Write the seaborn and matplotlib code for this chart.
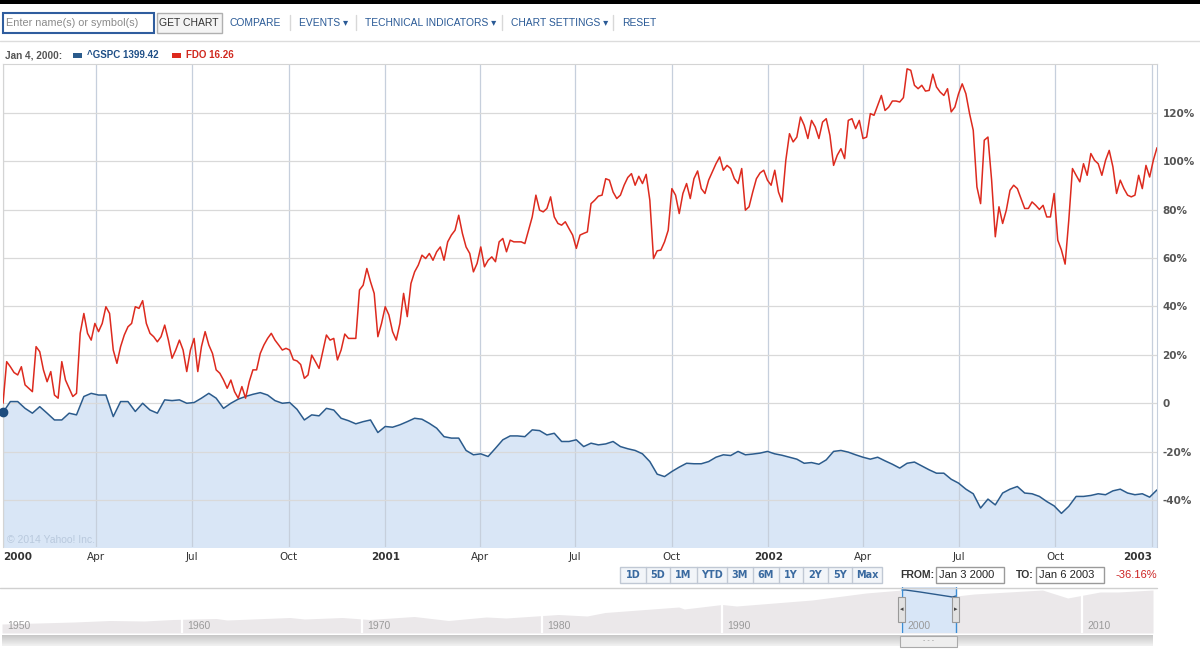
# Captura de Yahoo! Finance: ^GSPC frente a FDO (ene 2000 - ene 2003), en % desde el inicio
import numpy as np
import pandas as pd
import seaborn as sns
import matplotlib.pyplot as plt
from matplotlib.patches import Rectangle

# 1. Datos
# ^GSPC: un valor por semana (lunes) desde el 3 ene 2000
gspc_pct = [
    -3.8, 0.7, 0.7, -2.1, -4.1, -1.4, -4.1, -6.9, -6.9, -4.1,
    -4.8, 2.8, 4.1, 3.4, 3.4, -5.5, 0.7, 0.7, -3.4, 0.0,
    -2.8, -4.1, 1.4, 1.1, 1.4, 0.0, 0.3, 2.1, 4.1, 2.1,
    -2.1, 0.0, 1.7, 2.8, 3.7, 4.4, 3.4, 1.1, 0.0, 0.3,
    -2.5, -6.9, -4.8, -5.2, -2.1, -2.8, -6.2, -7.2, -8.5, -7.6,
    -6.9, -12.1, -9.6, -9.9, -8.9, -7.6, -6.2, -6.6, -8.3, -10.3,
    -13.8, -14.4, -14.4, -19.5, -21.3, -20.9, -22.0, -18.6, -15.1, -13.5,
    -13.5, -13.8, -11.0, -11.3, -13.1, -12.4, -15.8, -15.8, -15.1, -17.9,
    -16.5, -17.2, -16.8, -15.8, -17.9, -18.8, -19.5, -20.9, -24.1, -29.3,
    -30.3, -28.2, -26.4, -24.8, -25.0, -25.0, -24.1, -22.3, -21.3, -21.6,
    -19.9, -21.3, -21.0, -20.6, -19.9, -20.9, -21.5, -22.3, -23.1, -24.8,
    -24.5, -25.2, -23.4, -19.9, -19.5, -20.2, -21.3, -22.3, -23.1, -22.3,
    -23.8, -25.2, -26.8, -24.8, -24.3, -25.9, -27.5, -28.9, -28.9, -31.4,
    -33.0, -35.5, -37.4, -43.3, -39.6, -42.0, -37.1, -35.5, -34.4, -37.1,
    -37.4, -38.5, -40.6, -42.4, -45.5, -42.6, -38.5, -38.5, -38.1, -37.4,
    -37.8, -36.2, -35.5, -37.1, -37.8, -37.4, -38.8, -35.8,
]

# FDO: dos valores por semana (cada 3,5 dias) desde el 3 ene 2000
fdo_pct = [
    0.0, 17.2, 15.1, 12.7, 11.7, 15.1, 7.6, 6.2, 4.8, 23.4,
    21.3, 13.8, 8.9, 13.1, 3.4, 2.1, 17.2, 9.6, 6.2, 2.8,
    4.1, 28.9, 37.1, 28.9, 26.1, 33.0, 29.6, 33.0, 39.9, 37.1,
    22.0, 16.5, 23.4, 28.2, 31.6, 33.0, 39.9, 39.2, 42.4, 33.0,
    28.9, 27.5, 25.4, 27.5, 32.3, 26.1, 18.6, 22.0, 26.1, 22.0,
    13.1, 22.0, 26.8, 13.1, 23.4, 29.6, 24.1, 20.6, 13.8, 12.4,
    9.6, 6.2, 9.6, 4.8, 2.1, 6.9, 2.1, 8.9, 13.8, 13.8,
    20.6, 24.1, 26.8, 28.9, 26.1, 24.1, 22.0, 22.7, 22.0, 18.0,
    17.5, 16.0, 10.3, 11.7, 19.9, 17.2, 14.4, 21.3, 28.2, 26.1,
    26.8, 17.9, 22.0, 28.6, 26.8, 26.8, 26.8, 46.8, 48.8, 55.7,
    50.2, 45.4, 27.5, 33.0, 39.9, 36.5, 29.6, 26.1, 33.0, 45.4,
    35.8, 49.5, 54.3, 57.1, 61.2, 59.8, 61.9, 59.1, 62.6, 64.6,
    59.1, 66.7, 69.5, 71.5, 77.7, 70.2, 64.6, 61.9, 54.3, 57.8,
    64.6, 56.4, 59.1, 60.5, 58.5, 66.7, 68.1, 62.6, 67.4, 66.7,
    66.7, 66.7, 66.0, 71.5, 77.0, 86.0, 79.8, 79.1, 80.5, 85.3,
    77.0, 74.3, 73.6, 75.0, 72.2, 69.5, 64.0, 69.5, 70.2, 70.8,
    82.5, 83.9, 85.6, 86.0, 92.8, 92.2, 87.3, 84.6, 86.0, 90.1,
    93.3, 94.9, 90.1, 93.8, 90.8, 94.6, 83.9, 59.8, 63.0, 63.3,
    66.7, 71.5, 88.7, 86.0, 78.4, 86.7, 90.8, 84.6, 92.8, 96.0,
    88.7, 86.7, 92.2, 95.6, 99.0, 101.8, 96.3, 98.3, 97.0, 92.8,
    90.8, 97.0, 79.8, 81.2, 87.3, 92.8, 95.2, 96.3, 92.2, 90.1,
    96.3, 87.3, 83.2, 100.4, 111.4, 108.0, 110.0, 118.3, 114.9, 109.4,
    116.9, 114.2, 109.4, 116.2, 117.6, 110.7, 98.3, 102.5, 105.2, 101.1,
    116.9, 117.6, 113.5, 116.9, 109.4, 110.0, 119.7, 119.0, 123.1, 127.2,
    121.0, 122.4, 124.9, 124.9, 124.5, 126.3, 138.2, 137.6, 131.4, 130.0,
    131.4, 129.0, 129.3, 136.0, 130.7, 128.6, 127.2, 130.0, 120.4, 122.4,
    127.9, 132.0, 127.9, 119.7, 112.8, 89.4, 82.5, 108.7, 110.0, 92.2,
    68.8, 81.2, 74.3, 79.8, 88.0, 90.1, 88.7, 84.6, 80.5, 80.5,
    83.2, 81.8, 80.1, 81.8, 77.0, 77.0, 86.7, 67.4, 63.3, 57.5,
    75.7, 97.0, 94.2, 91.5, 99.0, 94.2, 103.2, 100.4, 99.0, 94.2,
    100.4, 104.5, 97.7, 86.7, 92.2, 88.7, 86.0, 85.3, 86.0, 94.2,
    88.7, 98.3, 93.5, 100.4, 105.6,
]

tick_dates = ['2000-01-03', '2000-04-01', '2000-07-01', '2000-10-01',
              '2001-01-01', '2001-04-01', '2001-07-01', '2001-10-01',
              '2002-01-01', '2002-04-01', '2002-07-01', '2002-10-01', '2003-01-01']
tick_labels = ['2000', 'Apr', 'Jul', 'Oct', '2001', 'Apr', 'Jul', 'Oct',
               '2002', 'Apr', 'Jul', 'Oct', '2003']
y_ticks = [-40, -20, 0, 20, 40, 60, 80, 100, 120]
y_tick_labels = ['-40%', '-20%', '0', '20%', '40%', '60%', '80%', '100%', '120%']

# Navegador inferior (historia larga, altura relativa)
nav_years = [1950.0, 1952, 1954, 1956, 1957.9, 1959.5, 1961.9, 1962.5, 1966, 1966.8,
             1968.9, 1970.4, 1972.9, 1974.8, 1976.9, 1978, 1980.9, 1982.5, 1983.5, 1987.6,
             1987.9, 1990, 1990.8, 1995, 1998, 2000.0, 2000.2, 2001, 2002.8, 2003.0,
             2004, 2007.8, 2009.2, 2011, 2012, 2013.94]
nav_level = [9, 10, 11, 12.5, 12, 13.5, 14.5, 13, 15.5, 14,
             15.5, 13.5, 16.5, 12.5, 16, 15, 18.5, 17, 20.5, 26,
             24, 28.5, 27, 33, 40, 43, 43, 41, 36, 37,
             39, 43, 35, 41, 41, 43]
nav_decades = [1950, 1960, 1970, 1980, 1990, 2000, 2010]
sel_from, sel_to = 2000.0, 2003.0

menu_items = ['COMPARE', 'EVENTS \u25be', 'TECHNICAL INDICATORS \u25be', 'CHART SETTINGS \u25be', 'RESET']
menu_x = [230, 299, 365, 511, 622]
range_buttons = ['1D', '5D', '1M', 'YTD', '3M', '6M', '1Y', '2Y', '5Y', 'Max']
range_edges = [620, 646, 670, 697, 727, 753, 779, 803, 828, 852, 882]

gspc = pd.DataFrame({'date': pd.date_range('2000-01-03', periods=len(gspc_pct), freq='7D'),
                     'pct': gspc_pct})
fdo = pd.DataFrame({'date': pd.date_range('2000-01-03', periods=len(fdo_pct), freq='84h'),
                    'pct': fdo_pct})

# 2. Estilo
sns.set_style('white')
plt.rcParams['font.family'] = ['Liberation Sans', 'DejaVu Sans']

W, H = 1200, 652
blue_line = '#2b5b8c'
red_line = '#dd2a1e'
fig = plt.figure(figsize=(W / 100, H / 100), dpi=100)

# 3. Grafico principal
ax = fig.add_axes([3 / W, 1 - 547 / H, 1154 / W, 483 / H])
ax.fill_between(gspc['date'], gspc['pct'], -60, color='#d9e6f6', lw=0, zorder=0)
sns.lineplot(data=gspc, x='date', y='pct', ax=ax, color=blue_line, lw=1.1, zorder=3)
sns.lineplot(data=fdo, x='date', y='pct', ax=ax, color=red_line, lw=1.1, zorder=3)
ax.plot(gspc['date'].iloc[0], gspc['pct'].iloc[0], 'o', ms=6, color='#1d4c7e',
        clip_on=False, zorder=5)

ax.set_xlim(gspc['date'].iloc[0], gspc['date'].iloc[-1])
ax.set_ylim(-59.4, 140.2)
ax.set_xlabel('')
ax.set_ylabel('')
ax.set_axisbelow(True)
ax.xaxis.grid(True, color='#c6cfdc', lw=0.9)
ax.yaxis.grid(True, color='#d9d9d9', lw=0.9)
for s in ['top', 'left']:
    ax.spines[s].set_color('#d4d4d4')
ax.spines['right'].set_color('#c6cfdc')
ax.spines['bottom'].set_visible(False)

ax.set_xticks(pd.to_datetime(tick_dates))
ax.set_xticklabels(tick_labels)
ax.tick_params(axis='x', length=0, pad=3.5, labelsize=7.5, colors='#333333')
for lbl in ax.get_xticklabels():
    lbl.set_family('DejaVu Sans')
    if lbl.get_text().isdigit():
        lbl.set_fontweight('bold')
ax.get_xticklabels()[0].set_ha('left')
ax.get_xticklabels()[-1].set_ha('right')

ax.yaxis.tick_right()
ax.set_yticks(y_ticks)
ax.set_yticklabels(y_tick_labels)
ax.tick_params(axis='y', length=0, pad=4, labelsize=7.5, colors='#555555')
for lbl in ax.get_yticklabels():
    lbl.set_family('DejaVu Sans')
    lbl.set_fontweight('bold')

ax.text(0.0035, 0.015, '\u00a9 2014 Yahoo! Inc.', transform=ax.transAxes,
        color='#b9c9dd', fontsize=7.5, va='center')

# 4. Navegador
nav = fig.add_axes([2 / W, 1 - 633 / H, 1151 / W, 46 / H])
nav.fill_between(nav_years, nav_level, 0, color='#ebe8ea', lw=0, zorder=1)
for d in nav_decades[1:]:
    nav.axvline(d, color='white', lw=1.6, zorder=1.5)
nav.axvspan(sel_from, sel_to, color='#d8e6f7', lw=0, zorder=2)
sel = [(y, v) for y, v in zip(nav_years, nav_level) if sel_from <= y <= sel_to]
nav.plot([p[0] for p in sel], [p[1] for p in sel], color=blue_line, lw=1, zorder=3)
for edge in (sel_from, sel_to):
    nav.axvline(edge, color='#3c8dd4', lw=1, zorder=4)
for d in nav_decades:
    nav.text(d + 0.28, 7.3, str(d), color='#9a9a9a', fontsize=7.5, va='center', zorder=5)
nav.set_xlim(1950, 2013.94)
nav.set_ylim(0, 46)
nav.axis('off')

# 5. Capa superior en pixeles: barra de menus, leyenda, rango y scroll
ov = fig.add_axes([0, 0, 1, 1], zorder=10)
ov.patch.set_visible(False)

ov.add_patch(Rectangle((0, 0), W, 4, fc='black', lw=0))
ov.add_patch(Rectangle((2.5, 12.5), 151, 20, fc='white', ec='#2f5d9e', lw=1.5))
ov.text(6, 22.5, 'Enter name(s) or symbol(s)', color='#8a8a8a', fontsize=7.8, va='center')
ov.add_patch(Rectangle((156.5, 12.5), 65, 20, fc='#f4f4f4', ec='#b0b0b0', lw=1))
ov.text(189, 22.5, 'GET CHART', color='#333333', fontsize=7.5, va='center', ha='center')
for x, t in zip(menu_x, menu_items):
    ov.text(x, 22.5, t, color='#2a5a96', fontsize=7.4, va='center')
for x in [290, 356, 502, 613]:
    ov.plot([x, x], [15, 30], color='#d8d8d8', lw=1)
ov.plot([0, W], [40.5, 40.5], color='#dcdcdc', lw=1)

ov.text(5, 55.5, 'Jan 4, 2000:', color='#555555', fontsize=7.2, fontweight='bold', va='center')
ov.add_patch(Rectangle((73, 53), 9, 5, fc=blue_line, lw=0))
ov.text(87, 55.5, '^GSPC 1399.42', color='#1f4f87', fontsize=7, fontweight='bold', va='center')
ov.add_patch(Rectangle((172, 53), 9, 5, fc=red_line, lw=0))
ov.text(186, 55.5, 'FDO 16.26', color='#d0281e', fontsize=7, fontweight='bold', va='center')

# botones de rango
ov.add_patch(Rectangle((range_edges[0], 567), range_edges[-1] - range_edges[0], 16,
                       fc='#f2f5f9', ec='#c0c8d4', lw=1))
for i, t in enumerate(range_buttons):
    if i > 0:
        ov.plot([range_edges[i]] * 2, [567, 583], color='#c0c8d4', lw=1)
    ov.text((range_edges[i] + range_edges[i + 1]) / 2, 575.5, t, color='#3a6aa0',
            fontsize=7, fontweight='bold', family='DejaVu Sans', ha='center', va='center')

ov.text(900, 575.5, 'FROM:', color='#333333', fontsize=7.5, fontweight='bold', va='center')
ov.add_patch(Rectangle((935.5, 567), 68, 16, fc='white', ec='#9a9a9a', lw=1))
ov.text(939, 575.5, 'Jan 3 2000', color='#222222', fontsize=8, va='center')
ov.text(1016, 575.5, 'TO:', color='#333333', fontsize=7.5, fontweight='bold', va='center')
ov.add_patch(Rectangle((1035.5, 567), 68, 16, fc='white', ec='#9a9a9a', lw=1))
ov.text(1039, 575.5, 'Jan 6 2003', color='#222222', fontsize=8, va='center')
ov.text(1115, 575.5, '-36.16%', color='#cc2222', fontsize=8, va='center')

ov.plot([0, 1157], [587.5, 587.5], color='#d0d0d0', lw=1)

# asas de la seleccion
for hx, arrow in [(898, '\u25c2'), (952, '\u25b8')]:
    ov.add_patch(Rectangle((hx, 597), 6.5, 25, fc='#e2e2e2', ec='#999999', lw=0.8))
    ov.text(hx + 3.3, 609.5, arrow, color='#444444', fontsize=5, family='DejaVu Sans',
            ha='center', va='center')

# barra de desplazamiento
shade = np.linspace(0.78, 0.95, 24)
grad = np.dstack([shade, shade, shade]).reshape(24, 1, 3)
ov.imshow(grad, extent=(2, 1153, 646, 635), aspect='auto', interpolation='bilinear', zorder=1)
ov.add_patch(Rectangle((900, 635.5), 57, 11, fc='#eeeeee', ec='#aaaaaa', lw=0.8, zorder=2))
ov.text(928.5, 641, '- - -', color='#999999', fontsize=5, ha='center', va='center', zorder=3)

ov.set_xlim(0, W)
ov.set_ylim(H, 0)
ov.axis('off')

plt.savefig('out.png', dpi=100)
